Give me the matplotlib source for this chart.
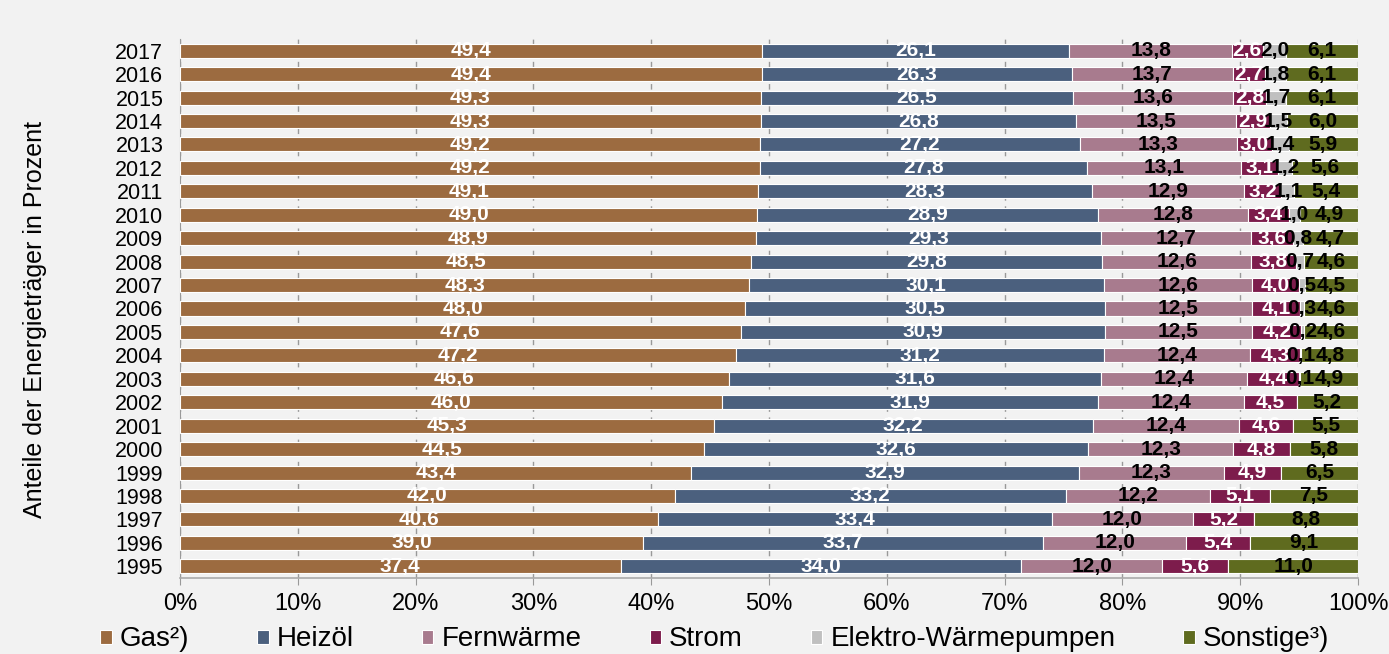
import numpy as np
import matplotlib
matplotlib.use('Agg')
from matplotlib import pyplot as plt

plt.rcParams['font.family'] = ['Liberation Sans', 'DejaVu Sans']

years = list(range(1995, 2018))
gas = [37.4, 39.0, 40.6, 42.0, 43.4, 44.5, 45.3, 46.0, 46.6, 47.2, 47.6, 48.0,
       48.3, 48.5, 48.9, 49.0, 49.1, 49.2, 49.2, 49.3, 49.3, 49.4, 49.4]
heizoel = [34.0, 33.7, 33.4, 33.2, 32.9, 32.6, 32.2, 31.9, 31.6, 31.2, 30.9, 30.5,
           30.1, 29.8, 29.3, 28.9, 28.3, 27.8, 27.2, 26.8, 26.5, 26.3, 26.1]
fernwaerme = [12.0, 12.0, 12.0, 12.2, 12.3, 12.3, 12.4, 12.4, 12.4, 12.4, 12.5, 12.5,
              12.6, 12.6, 12.7, 12.8, 12.9, 13.1, 13.3, 13.5, 13.6, 13.7, 13.8]
strom = [5.6, 5.4, 5.2, 5.1, 4.9, 4.8, 4.6, 4.5, 4.4, 4.3, 4.2, 4.1,
         4.0, 3.8, 3.6, 3.4, 3.2, 3.1, 3.0, 2.9, 2.8, 2.7, 2.6]
waermepumpen = [0.0, 0.0, 0.0, 0.0, 0.0, 0.0, 0.0, 0.0, 0.1, 0.1, 0.2, 0.3,
                0.5, 0.7, 0.8, 1.0, 1.1, 1.2, 1.4, 1.5, 1.7, 1.8, 2.0]
sonstige = [11.0, 9.1, 8.8, 7.5, 6.5, 5.8, 5.5, 5.2, 4.9, 4.8, 4.6, 4.6,
            4.5, 4.6, 4.7, 4.9, 5.4, 5.6, 5.9, 6.0, 6.1, 6.1, 6.1]

series = [
    ('Gas²)', gas, '#9c6b40', 'white'),
    ('Heizöl', heizoel, '#4b607e', 'white'),
    ('Fernwärme', fernwaerme, '#a87b8e', 'black'),
    ('Strom', strom, '#7d1c4c', 'white'),
    ('Elektro-Wärmepumpen', waermepumpen, '#c0c0c0', 'black'),
    ('Sonstige³)', sonstige, '#5f6b1f', 'black'),
]

bg = '#f2f2f2'
fig = plt.figure(figsize=(13.89, 6.54), dpi=100, facecolor=bg)
ax = fig.add_axes([0.1296, 0.1162, 0.8481, 0.8242], facecolor=bg)

y = np.arange(len(years))
totals = np.sum([s[1] for s in series], axis=0)
left = np.zeros(len(years))
for name, vals, color, tcolor in series:
    w = np.array(vals) / totals * 100
    ax.barh(y, w, left=left, height=0.6, color=color, edgecolor='white',
            linewidth=0.8, label=name, zorder=3)
    for yi, (l, wi, v) in enumerate(zip(left, w, vals)):
        if v <= 0:
            continue
        ax.text(l + wi / 2, yi, f'{v:.1f}'.replace('.', ','), ha='center',
                va='center', color=tcolor, fontsize=15, fontweight='bold',
                zorder=4)
    left += w

ax.set_xlim(0, 100)
ax.set_ylim(-0.5, len(years) - 0.5)
ax.set_yticks(y)
ax.set_yticklabels([str(v) for v in years], fontsize=15.5)
ax.tick_params(axis='y', length=0, pad=12)
ax.set_xticks(np.arange(0, 101, 10))
ax.set_xticklabels([f'{v}%' for v in range(0, 101, 10)], fontsize=17)
ax.tick_params(axis='x', length=5, color='#999999', pad=6)
ax.grid(axis='x', color='#999999', linestyle=(0, (4, 4)), linewidth=1, zorder=0)
for side in ['top', 'right']:
    ax.spines[side].set_visible(False)
ax.spines['left'].set_color('#999999')
ax.spines['bottom'].set_color('#aaaaaa')
ax.spines['bottom'].set_linewidth(1.2)

ax.set_ylabel('Anteile der Energieträger in Prozent', fontsize=18)
ax.yaxis.set_label_coords(-0.113, 0.48)

ax.legend(loc='center', bbox_to_anchor=(0.454, -0.114), ncol=6,
          frameon=False, fontsize=20, handlelength=0.4, handleheight=0.4,
          handletextpad=0.3, columnspacing=2.45)

fig.savefig('out.png', dpi=100, facecolor=bg)
